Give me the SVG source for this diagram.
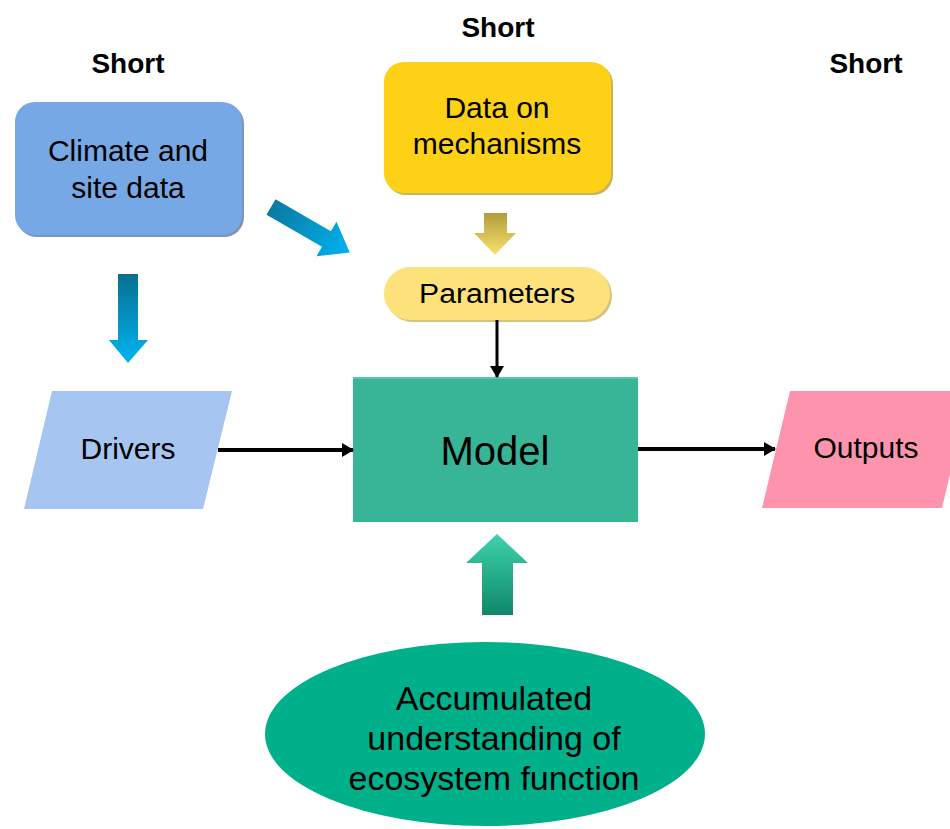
<svg xmlns="http://www.w3.org/2000/svg" width="950" height="829" viewBox="0 0 950 829">
  <defs>
    <linearGradient id="gBlueV" x1="0" y1="0" x2="0" y2="1">
      <stop offset="0" stop-color="#08708f"/>
      <stop offset="1" stop-color="#00b4f2"/>
    </linearGradient>
    <linearGradient id="gBlueD" x1="0" y1="0" x2="1" y2="0">
      <stop offset="0" stop-color="#0a7aa2"/>
      <stop offset="1" stop-color="#00b2ef"/>
    </linearGradient>
    <linearGradient id="gGold" x1="0" y1="0" x2="0" y2="1">
      <stop offset="0" stop-color="#b29c3c"/>
      <stop offset="1" stop-color="#f8e26c"/>
    </linearGradient>
    <linearGradient id="gGreen" x1="0" y1="0" x2="0" y2="1">
      <stop offset="0" stop-color="#3dd3ab"/>
      <stop offset="1" stop-color="#10876a"/>
    </linearGradient>
    <marker id="head" viewBox="0 0 12 14" refX="11" refY="7" markerUnits="userSpaceOnUse" markerWidth="12" markerHeight="14" orient="auto">
      <path d="M0,0 L12,7 L0,14 Z" fill="#000"/>
    </marker>
  </defs>
  <style>
    text { font-family: "Liberation Sans", Arial, sans-serif; fill: #000; text-anchor: middle; }
    .short { font-size: 28px; font-weight: bold; }
    .lbl { font-size: 30px; }
    .conn { stroke: #000; fill: none; }
  </style>

  <rect width="950" height="829" fill="#fff"/>

  <!-- time-scale labels -->
  <text class="short" x="128" y="73">Short</text>
  <text class="short" x="498" y="37">Short</text>
  <text class="short" x="866" y="73">Short</text>

  <g id="climate">
    <rect x="17" y="104" width="227" height="133" rx="20" fill="#7b94b8"/>
    <rect x="15" y="102" width="227" height="133" rx="20" fill="#75a8e4"/>
    <text class="lbl" x="128" y="161">Climate and</text>
    <text class="lbl" x="128" y="198">site data</text>
  </g>

  <g id="mechanisms">
    <rect x="386" y="64" width="227" height="131" rx="20" fill="#c9b45a"/>
    <rect x="384" y="62" width="227" height="131" rx="20" fill="#fcd116"/>
    <text class="lbl" x="497" y="118">Data on</text>
    <text class="lbl" x="497" y="154">mechanisms</text>
  </g>

  <g id="parameters">
    <rect x="386" y="269" width="226" height="53" rx="26.5" fill="#d6c47a"/>
    <rect x="384" y="267" width="226" height="53" rx="26.5" fill="#fde27c"/>
    <text x="497" y="303" font-size="27" textLength="156" lengthAdjust="spacingAndGlyphs">Parameters</text>
  </g>

  <g id="drivers">
    <polygon points="52,391 232,391 203,509 24,509" fill="#a6c5f0"/>
    <text class="lbl" x="128" y="459">Drivers</text>
  </g>

  <g id="model">
    <rect x="353" y="377" width="285" height="145" fill="#38b597"/>
    <rect x="353" y="377" width="285" height="2" fill="#5cc4aa"/>
    <text x="495" y="465" font-size="40">Model</text>
  </g>

  <g id="outputs">
    <polygon points="790,391 970,391 942,508 762,508" fill="#fe93ad"/>
    <text class="lbl" x="866" y="458">Outputs</text>
  </g>

  <g id="understanding">
    <ellipse cx="485" cy="734" rx="220" ry="92" fill="#00b08b"/>
    <text x="494" y="710" font-size="34">Accumulated</text>
    <text x="494" y="750" font-size="34">understanding of</text>
    <text x="494" y="790" font-size="34">ecosystem function</text>
  </g>

  <g id="connectors">
    <!-- block arrows -->
    <polygon points="118,274 138,274 138,340 148,340 128,363 109,340 118,340" fill="url(#gBlueV)"/>
    <g transform="translate(271,207) rotate(30)">
      <polygon points="0,-9 64,-9 64,-20 91,0 64,20 64,9 0,9" fill="url(#gBlueD)"/>
    </g>
    <polygon points="484,213 507,213 507,233 516,233 495,255 474,233 484,233" fill="url(#gGold)"/>
    <polygon points="482,615 513,615 513,563 528,563 497,534 466,563 482,563" fill="url(#gGreen)"/>
    <!-- line arrows -->
    <line class="conn" x1="497" y1="320" x2="497" y2="377" stroke-width="3" marker-end="url(#head)"/>
    <line class="conn" x1="218" y1="450" x2="353" y2="450" stroke-width="4" marker-end="url(#head)"/>
    <line class="conn" x1="638" y1="449" x2="775" y2="449" stroke-width="4" marker-end="url(#head)"/>
  </g>
</svg>
